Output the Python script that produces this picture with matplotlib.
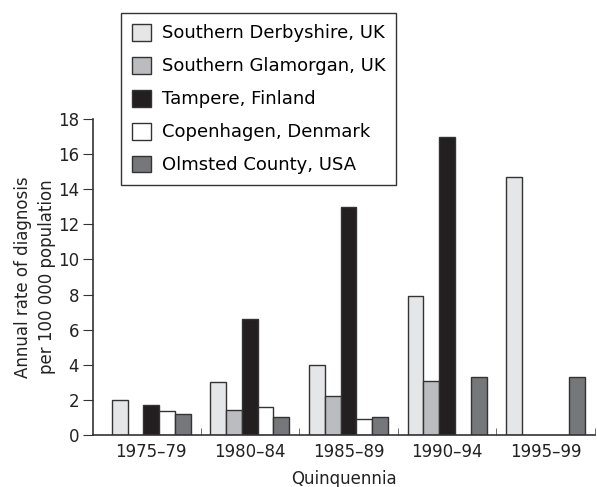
import matplotlib.pyplot as plt
import numpy as np

# data
periods = ["1975\u201379", "1980\u201384", "1985\u201389", "1990\u201394", "1995\u201399"]
derbyshire = [2.0, 3.0, 4.0, 7.9, 14.7]
glamorgan = [0, 1.4, 2.2, 3.1, 0]
tampere = [1.7, 6.6, 13.0, 17.0, 0]
copenhagen = [1.35, 1.6, 0.9, 0, 0]
olmsted = [1.2, 1.0, 1.0, 3.3, 3.3]

names = ["Southern Derbyshire, UK", "Southern Glamorgan, UK", "Tampere, Finland",
         "Copenhagen, Denmark", "Olmsted County, USA"]
colors = ["#e5e6e8", "#bbbcc0", "#231f20", "#ffffff", "#76777b"]
series = [derbyshire, glamorgan, tampere, copenhagen, olmsted]

plt.rcParams.update({'font.family': 'DejaVu Sans', 'font.size': 12})

fig = plt.figure(figsize=(5.97, 4.87), dpi=100)
ax = fig.add_axes([93/597, 1-435/487, 502/597, (435-119)/487])

x = np.arange(len(periods))
w = 0.16
handles = []
for i, (vals, c, n) in enumerate(zip(series, colors, names)):
    vals = np.array(vals, dtype=float)
    mask = vals > 0
    ax.bar(x[mask] + (i-2)*w, vals[mask], w, color=c, edgecolor="#333333", linewidth=1)
    handles.append(plt.Rectangle((0, 0), 1, 1, facecolor=c, edgecolor="#333333", linewidth=1))

ax.set_xlim(-0.59, 4.5)
ax.set_ylim(0, 18)
ax.set_yticks(range(0, 19, 2))
ax.set_xticks(x)
ax.set_xticklabels(periods)
ax.set_xticks(x + 0.5, minor=True)
ax.tick_params(axis='x', which='major', length=0, pad=6, labelcolor="#222222")
ax.tick_params(axis='x', which='minor', direction='in', length=5, color="#555555")
ax.tick_params(axis='y', length=7, pad=3, color="#333333", labelcolor="#222222")
ax.spines['top'].set_visible(False)
ax.spines['right'].set_visible(False)
for s in ['left', 'bottom']:
    ax.spines[s].set_color("#333333")
    ax.spines[s].set_linewidth(1.2)

ax.set_ylabel("Annual rate of diagnosis\nper 100 000 population", color="#222222",
              linespacing=1.45, labelpad=1)
ax.set_xlabel("Quinquennia", color="#222222", labelpad=6)

leg = fig.legend(handles, names, loc='upper left', bbox_to_anchor=(121/597, 1-13/487),
                 borderaxespad=0, fancybox=False, edgecolor="#333333", framealpha=1,
                 handlelength=1.05, handleheight=1.05, labelspacing=0.8,
                 handletextpad=0.6, borderpad=0.6, fontsize=13)
leg.get_frame().set_linewidth(1)

fig.savefig("out.png", dpi=100)
